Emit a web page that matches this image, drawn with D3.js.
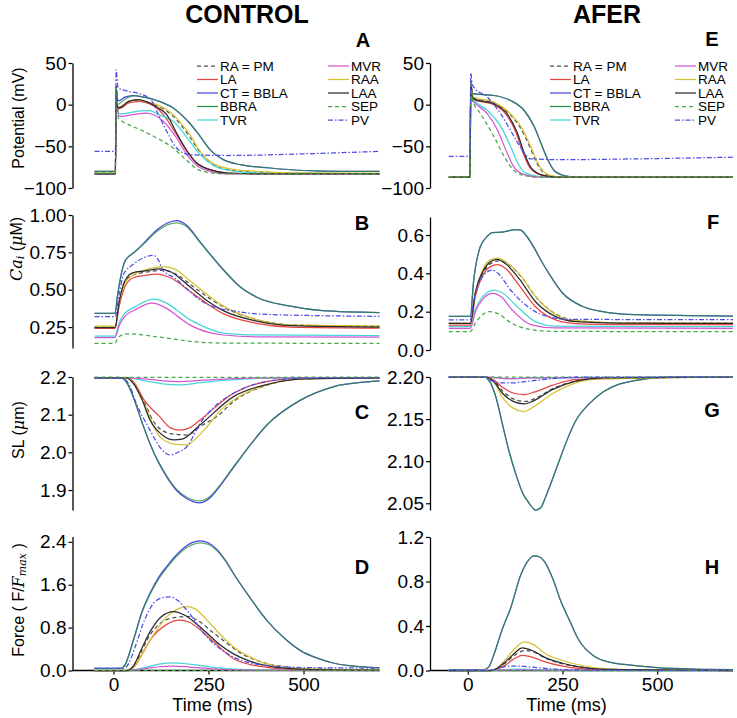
<!DOCTYPE html>
<html><head><meta charset="utf-8">
<script src="https://cdn.jsdelivr.net/npm/d3@7"></script>
<style>
body{margin:0;background:#fff}
svg{display:block}
text{font-family:"Liberation Sans",Arial,sans-serif;fill:#000}
</style>
</head><body>
<svg id="chart" width="737" height="718"></svg>
<script>
// ---------------- series definitions ----------------
const seriesNames  = ["RA = PM","LA","CT = BBLA","BBRA","TVR","MVR","RAA","LAA","SEP","PV"];
const seriesColors = ["#505050","#e84545","#4646dc","#2c8c44","#44d6d6","#d455d4","#d6c233","#2a2a2a","#44a844","#4d4de6"];
const seriesDash   = ["4,3",null,null,null,null,null,null,null,"4,3","5,2,1.5,2"];
const seriesAlpha  = [1,1,1,0.75,1,1,1,1,1,1];

const timeTicks = [0,250,500];

// ---------------- data: [time (ms), value] per series, in series order ----------------
// Panel A: Potential (mV), CONTROL
const potentialControl = [
 [[-50,-82],[5,-82],[7,22],[11,-4],[20,-3],[40,3],[60,5],[90,2],[114,-1],[157,-14],[195,-35],[225,-55],[260,-71],[300,-78],[377,-81],[500,-82],[700,-83]],
 [[-50,-83],[5,-83],[7,20],[11,-5],[20,-4],[40,2],[70,4],[95,1],[114,-4],[131,-12],[166,-36],[193,-56],[219,-70],[254,-78],[300,-82],[400,-83],[700,-83]],
 [[-50,-80],[5,-80],[7,22],[10,6],[15,5],[30,9],[50,11],[80,9],[114,5],[157,-4],[200,-22],[228,-38],[254,-54],[289,-66],[333,-72],[412,-76],[500,-79],[600,-80],[700,-80]],
 [[-50,-80],[5,-80],[7,22],[10,0],[20,3],[40,9],[55,11],[80,9],[114,5],[157,-4],[200,-22],[228,-38],[254,-54],[289,-66],[333,-72],[412,-76],[500,-79],[600,-80],[700,-80]],
 [[-50,-83],[5,-83],[7,18],[12,-10],[20,-11],[50,-9],[80,-7],[96,-7],[114,-11],[157,-20],[201,-44],[228,-60],[263,-73],[307,-79],[377,-82],[700,-83]],
 [[-50,-83],[5,-83],[7,16],[13,-13],[21,-14],[50,-12],[87,-10],[110,-13],[131,-20],[166,-40],[193,-60],[219,-73],[254,-80],[300,-83],[700,-83]],
 [[-50,-82],[5,-82],[7,22],[11,-3],[20,-2],[40,4],[62,6],[90,3],[114,0],[157,-12],[201,-36],[228,-56],[263,-71],[307,-77],[377,-80],[500,-82],[700,-82]],
 [[-50,-83],[5,-83],[7,22],[11,-4],[20,-3],[40,4],[65,6],[90,3],[114,-3],[140,-12],[166,-34],[193,-55],[219,-70],[254,-78],[300,-82],[400,-83],[700,-83]],
 [[-50,-82],[5,-82],[7,20],[13,-16],[40,-24],[70,-30],[114,-40],[157,-52],[193,-67],[219,-77],[245,-81],[300,-83],[700,-83]],
 [[-50,-56],[5,-56],[7,42],[12,20],[40,16],[70,13],[100,5],[114,-8],[140,-32],[166,-52],[201,-60],[300,-61],[500,-59],[700,-56]]
];
// Panel E: Potential (mV), AFER
const potentialAfer = [
 [[-50,-87],[6,-87],[8,28],[12,10],[16,8],[69,2],[110,-11],[138,-27],[163,-50],[181,-69],[199,-81],[225,-86],[260,-87],[700,-87]],
 [[-50,-87],[6,-87],[8,26],[12,8],[16,6],[69,0],[100,-11],[128,-34],[146,-58],[163,-75],[190,-84],[225,-87],[700,-87]],
 [[-50,-87],[6,-87],[8,26],[12,14],[16,13],[40,12],[69,11],[113,5],[149,-7],[175,-26],[193,-46],[210,-65],[228,-79],[254,-85],[290,-87],[700,-87]],
 [[-50,-87],[6,-87],[8,26],[12,14],[16,13],[40,12],[69,11],[113,5],[149,-7],[175,-26],[193,-46],[210,-65],[228,-79],[254,-85],[290,-87],[700,-87]],
 [[-50,-87],[6,-87],[8,26],[12,7],[16,5],[52,-7],[87,-26],[113,-50],[131,-69],[149,-81],[175,-85],[210,-87],[700,-87]],
 [[-50,-87],[6,-87],[8,24],[12,5],[16,3],[52,-11],[78,-30],[104,-58],[122,-75],[149,-84],[190,-87],[700,-87]],
 [[-50,-87],[6,-87],[8,28],[12,10],[16,9],[69,3],[113,-11],[140,-26],[166,-50],[184,-69],[202,-81],[228,-86],[260,-87],[700,-87]],
 [[-50,-87],[6,-87],[8,28],[12,9],[16,7],[69,1],[104,-11],[131,-34],[149,-58],[166,-75],[193,-84],[230,-87],[700,-87]],
 [[-50,-87],[6,-87],[8,28],[12,6],[34,-11],[69,-38],[96,-62],[122,-79],[149,-85],[190,-87],[700,-87]],
 [[-50,-62],[6,-62],[8,38],[12,24],[16,21],[52,9],[87,-11],[122,-38],[149,-58],[166,-65],[250,-66],[450,-65],[700,-63]]
];
// Panel B: Ca_i (uM), CONTROL
const calciumControl = [
 [[-50,0.25],[4,0.25],[15,0.41],[30,0.55],[52,0.6],[80,0.615],[130,0.63],[160,0.61],[210,0.52],[260,0.43],[300,0.37],[377,0.3],[465,0.265],[700,0.255]],
 [[-50,0.241],[4,0.241],[15,0.39],[30,0.52],[52,0.58],[80,0.595],[114,0.605],[150,0.58],[201,0.49],[250,0.4],[289,0.34],[377,0.275],[465,0.25],[700,0.243]],
 [[-50,0.342],[4,0.342],[10,0.45],[20,0.6],[30,0.69],[39,0.72],[52,0.745],[79,0.81],[114,0.9],[140,0.945],[166,0.962],[193,0.93],[228,0.82],[289,0.635],[333,0.52],[377,0.45],[465,0.39],[550,0.36],[700,0.347]],
 [[-50,0.342],[4,0.342],[10,0.45],[20,0.6],[30,0.69],[39,0.72],[52,0.745],[79,0.805],[114,0.89],[140,0.932],[166,0.948],[193,0.922],[228,0.815],[289,0.632],[333,0.52],[377,0.45],[465,0.39],[550,0.36],[700,0.347]],
 [[-50,0.19],[4,0.19],[15,0.28],[26,0.33],[60,0.39],[105,0.437],[140,0.41],[166,0.365],[201,0.3],[250,0.24],[289,0.21],[377,0.197],[700,0.192]],
 [[-50,0.18],[4,0.18],[15,0.26],[26,0.31],[60,0.37],[101,0.41],[140,0.375],[170,0.32],[201,0.265],[250,0.215],[289,0.197],[377,0.185],[700,0.182]],
 [[-50,0.256],[4,0.256],[15,0.42],[30,0.54],[52,0.6],[80,0.63],[131,0.655],[160,0.64],[201,0.56],[250,0.46],[289,0.39],[377,0.3],[465,0.265],[700,0.258]],
 [[-50,0.247],[4,0.247],[15,0.42],[30,0.56],[52,0.615],[80,0.625],[122,0.64],[150,0.62],[201,0.52],[250,0.42],[289,0.36],[377,0.29],[465,0.26],[700,0.25]],
 [[-50,0.141],[4,0.141],[10,0.17],[20,0.195],[40,0.205],[70,0.2],[114,0.185],[160,0.17],[201,0.155],[289,0.143],[700,0.141]],
 [[-50,0.32],[4,0.32],[15,0.47],[26,0.6],[52,0.67],[80,0.715],[105,0.73],[118,0.7],[130,0.63],[160,0.58],[200,0.49],[228,0.43],[270,0.38],[310,0.36],[400,0.335],[700,0.322]]
];
// Panel F: Ca_i (uM), AFER
const calciumAfer = [
 [[-50,0.139],[7,0.139],[20,0.29],[40,0.4],[60,0.45],[82,0.465],[105,0.45],[140,0.385],[185,0.265],[240,0.18],[300,0.15],[400,0.142],[700,0.14]],
 [[-50,0.13],[7,0.13],[20,0.28],[40,0.39],[60,0.435],[78,0.445],[100,0.425],[135,0.339],[179,0.226],[232,0.157],[285,0.138],[400,0.133],[700,0.132]],
 [[-50,0.175],[7,0.175],[15,0.35],[30,0.52],[50,0.59],[65,0.613],[91,0.615],[126,0.628],[140,0.625],[153,0.6],[179,0.52],[197,0.455],[214,0.4],[249,0.3],[302,0.228],[356,0.2],[444,0.184],[700,0.177]],
 [[-50,0.175],[7,0.175],[15,0.35],[30,0.52],[50,0.59],[65,0.613],[91,0.615],[126,0.628],[140,0.625],[153,0.6],[179,0.52],[197,0.455],[214,0.4],[249,0.3],[302,0.228],[356,0.2],[444,0.184],[700,0.177]],
 [[-50,0.122],[7,0.122],[20,0.21],[40,0.28],[69,0.313],[90,0.3],[126,0.235],[179,0.148],[232,0.124],[700,0.122]],
 [[-50,0.113],[7,0.113],[20,0.2],[40,0.265],[65,0.295],[90,0.275],[117,0.209],[170,0.13],[232,0.115],[700,0.113]],
 [[-50,0.139],[7,0.139],[20,0.3],[40,0.42],[60,0.47],[82,0.48],[100,0.46],[135,0.4],[179,0.28],[232,0.185],[285,0.153],[400,0.142],[700,0.14]],
 [[-50,0.139],[7,0.139],[20,0.3],[40,0.41],[60,0.46],[78,0.473],[100,0.45],[135,0.374],[179,0.252],[232,0.174],[285,0.148],[400,0.14],[700,0.139]],
 [[-50,0.096],[7,0.096],[20,0.14],[40,0.185],[56,0.2],[80,0.19],[109,0.148],[162,0.108],[232,0.097],[700,0.096]],
 [[-50,0.157],[7,0.157],[15,0.25],[30,0.35],[50,0.405],[65,0.417],[80,0.4],[113,0.313],[153,0.235],[197,0.183],[267,0.16],[700,0.158]]
];
// Panel C: SL (um), CONTROL
const slControl = [
 [[-50,2.198],[35,2.198],[52,2.185],[80,2.135],[110,2.075],[150,2.05],[193,2.046],[230,2.07],[272,2.095],[316,2.135],[403,2.178],[500,2.195],[700,2.198]],
 [[-50,2.198],[35,2.198],[52,2.188],[80,2.14],[122,2.094],[150,2.065],[175,2.059],[200,2.065],[228,2.086],[316,2.157],[403,2.188],[500,2.197],[700,2.198]],
 [[-50,2.197],[20,2.197],[35,2.185],[52,2.147],[75,2.08],[96,2.023],[120,1.97],[140,1.935],[165,1.9],[193,1.877],[228,1.866],[255,1.88],[272,1.9],[316,1.96],[360,2.02],[403,2.072],[491,2.138],[578,2.174],[666,2.187],[700,2.19]],
 [[-50,2.197],[20,2.197],[35,2.185],[52,2.147],[75,2.08],[96,2.023],[120,1.972],[140,1.938],[165,1.903],[193,1.881],[228,1.871],[255,1.884],[272,1.903],[316,1.962],[360,2.02],[403,2.072],[491,2.138],[578,2.174],[666,2.187],[700,2.19]],
 [[-50,2.198],[40,2.198],[80,2.19],[130,2.182],[175,2.179],[230,2.185],[300,2.192],[403,2.197],[700,2.198]],
 [[-50,2.198],[40,2.198],[80,2.195],[130,2.19],[175,2.188],[230,2.191],[300,2.195],[403,2.198],[700,2.198]],
 [[-50,2.198],[35,2.198],[52,2.185],[80,2.13],[122,2.041],[160,2.022],[193,2.02],[220,2.04],[246,2.068],[280,2.11],[316,2.139],[403,2.179],[500,2.195],[700,2.198]],
 [[-50,2.198],[35,2.198],[52,2.183],[75,2.14],[96,2.086],[130,2.045],[160,2.033],[180,2.035],[228,2.073],[316,2.148],[403,2.18],[500,2.195],[700,2.198]],
 [[-50,2.2],[100,2.199],[200,2.199],[700,2.2]],
 [[-50,2.197],[25,2.197],[41,2.18],[60,2.13],[96,2.059],[125,2.01],[149,1.993],[170,2.0],[193,2.015],[228,2.077],[270,2.125],[316,2.157],[403,2.188],[500,2.197],[700,2.198]]
];
// Panel G: SL (um), AFER
const slAfer = [
 [[-50,2.2],[45,2.2],[70,2.195],[91,2.184],[120,2.174],[152,2.171],[180,2.175],[223,2.186],[285,2.195],[356,2.199],[700,2.2]],
 [[-50,2.2],[45,2.2],[70,2.196],[91,2.188],[120,2.181],[149,2.179],[175,2.182],[223,2.19],[285,2.197],[700,2.2]],
 [[-50,2.2],[45,2.2],[60,2.193],[75,2.175],[91,2.145],[110,2.11],[126,2.086],[145,2.062],[162,2.05],[179,2.042],[193,2.045],[205,2.057],[223,2.078],[241,2.1],[262,2.125],[285,2.148],[320,2.168],[356,2.182],[444,2.196],[532,2.2],[700,2.2]],
 [[-50,2.2],[45,2.2],[60,2.193],[75,2.175],[91,2.145],[110,2.11],[126,2.086],[145,2.062],[162,2.05],[179,2.042],[193,2.045],[205,2.057],[223,2.078],[241,2.1],[262,2.125],[285,2.148],[320,2.168],[356,2.182],[444,2.196],[532,2.2],[700,2.2]],
 [[-50,2.2],[50,2.2],[110,2.198],[160,2.199],[700,2.2]],
 [[-50,2.2],[50,2.2],[110,2.198],[170,2.199],[700,2.2]],
 [[-50,2.2],[45,2.2],[70,2.193],[91,2.176],[120,2.163],[149,2.159],[175,2.165],[223,2.18],[285,2.193],[356,2.198],[700,2.2]],
 [[-50,2.2],[45,2.2],[70,2.194],[91,2.181],[120,2.171],[149,2.168],[175,2.172],[223,2.185],[285,2.195],[356,2.199],[700,2.2]],
 [[-50,2.2],[700,2.2]],
 [[-50,2.2],[40,2.2],[60,2.196],[90,2.193],[120,2.193],[160,2.195],[223,2.198],[300,2.2],[700,2.2]]
];
// Panel D: Force (F/Fmax), CONTROL
const forceControl = [
 [[-50,0],[35,0],[52,0.06],[75,0.38],[96,0.66],[140,0.95],[175,1.0],[193,1.01],[220,0.94],[260,0.72],[300,0.5],[333,0.33],[380,0.18],[440,0.08],[520,0.03],[700,0.005]],
 [[-50,0],[35,0],[52,0.05],[75,0.3],[96,0.56],[140,0.86],[175,0.94],[200,0.9],[228,0.76],[260,0.56],[316,0.22],[360,0.11],[403,0.06],[500,0.015],[700,0.003]],
 [[-50,0.04],[20,0.04],[30,0.1],[52,0.56],[75,1.1],[96,1.44],[120,1.75],[140,1.94],[165,2.15],[184,2.28],[205,2.38],[228,2.42],[250,2.38],[272,2.26],[295,2.05],[316,1.81],[360,1.35],[403,0.94],[450,0.6],[491,0.375],[540,0.22],[578,0.14],[620,0.09],[666,0.065],[700,0.055]],
 [[-50,0.04],[20,0.04],[30,0.1],[52,0.55],[75,1.08],[96,1.42],[120,1.72],[140,1.91],[165,2.12],[184,2.25],[205,2.34],[228,2.38],[250,2.35],[272,2.24],[295,2.04],[316,1.8],[360,1.35],[403,0.94],[450,0.6],[491,0.375],[540,0.22],[578,0.14],[620,0.09],[666,0.065],[700,0.055]],
 [[-50,0],[40,0],[80,0.05],[120,0.12],[158,0.144],[200,0.12],[260,0.06],[330,0.02],[450,0.003],[700,0]],
 [[-50,0],[40,0],[80,0.03],[120,0.07],[158,0.081],[200,0.065],[260,0.03],[330,0.01],[450,0.002],[700,0]],
 [[-50,0],[35,0],[52,0.06],[75,0.3],[96,0.56],[140,1.0],[170,1.15],[193,1.19],[215,1.15],[246,0.94],[280,0.68],[316,0.44],[360,0.25],[403,0.125],[500,0.035],[700,0.01]],
 [[-50,0],[35,0],[52,0.08],[75,0.42],[96,0.72],[125,1.0],[158,1.1],[190,1.02],[220,0.86],[246,0.7],[280,0.48],[316,0.31],[360,0.17],[403,0.09],[500,0.02],[700,0.005]],
 [[-50,0],[700,0.002]],
 [[-50,0.04],[25,0.04],[35,0.08],[60,0.5],[78,0.875],[105,1.25],[130,1.36],[149,1.375],[170,1.3],[193,1.125],[246,0.625],[316,0.25],[403,0.094],[500,0.055],[700,0.045]]
];
// Panel H: Force (F/Fmax), AFER
const forceAfer = [
 [[-50,0],[60,0],[80,0.02],[100,0.07],[125,0.14],[150,0.18],[175,0.165],[205,0.11],[250,0.06],[300,0.03],[360,0.01],[700,0]],
 [[-50,0],[60,0],[80,0.015],[100,0.05],[125,0.11],[144,0.135],[170,0.12],[202,0.08],[250,0.04],[290,0.02],[350,0.007],[700,0]],
 [[-50,0.005],[40,0.005],[55,0.03],[69,0.143],[90,0.36],[113,0.56],[140,0.86],[160,0.99],[175,1.03],[190,1.02],[202,0.98],[225,0.82],[246,0.62],[270,0.44],[290,0.292],[334,0.128],[380,0.07],[413,0.054],[500,0.025],[600,0.012],[700,0.008]],
 [[-50,0.005],[40,0.005],[55,0.03],[69,0.143],[90,0.36],[113,0.56],[140,0.86],[160,0.99],[175,1.03],[190,1.02],[202,0.98],[225,0.82],[246,0.62],[270,0.44],[290,0.292],[334,0.128],[380,0.07],[413,0.054],[500,0.025],[600,0.012],[700,0.008]],
 [[-50,0],[60,0],[110,0.01],[140,0.012],[200,0.006],[300,0],[700,0]],
 [[-50,0],[100,0.003],[150,0.005],[250,0.001],[700,0]],
 [[-50,0],[60,0],[80,0.03],[96,0.084],[125,0.2],[149,0.257],[175,0.23],[202,0.158],[250,0.09],[290,0.054],[350,0.02],[450,0.005],[700,0]],
 [[-50,0],[60,0],[80,0.025],[100,0.08],[125,0.16],[144,0.203],[170,0.18],[202,0.12],[250,0.065],[290,0.035],[350,0.012],[700,0]],
 [[-50,0],[700,0]],
 [[-50,0],[55,0],[80,0.02],[110,0.04],[130,0.04],[170,0.03],[220,0.015],[300,0.005],[700,0]]
];

// tick values per panel
const potentialTicks = [-100,-50,0,50];
const calciumCtrlTicks = [0.25,0.5,0.75,1.0];
const calciumAferTicks = [0.0,0.2,0.4,0.6];
const slCtrlTicks = [1.9,2.0,2.1,2.2];
const slAferTicks = [2.05,2.10,2.15,2.20];
const forceCtrlTicks = [0.0,0.8,1.6,2.4];
const forceAferTicks = [0.0,0.4,0.8,1.2];

// ---------------- layout ----------------
const svg = d3.select("#chart");
const cols = [
  {axisX:72.5, x:d3.scaleLinear().domain([-50,700]).range([94.5,379.5])},
  {axisX:430,  x:d3.scaleLinear().domain([-50,700]).range([448.8,733])}
];
const panels = [
  {col:0, data:potentialControl, dom:[-100,50], rng:[188,63], ticks:potentialTicks, fmt:d3.format("d"), letter:"A", lx:363, ly:40},
  {col:0, data:calciumControl, dom:[0.11,1.0], rng:[348,215], ticks:calciumCtrlTicks, fmt:d3.format(".2f"), letter:"B", lx:362, ly:223},
  {col:0, data:slControl, dom:[1.847,2.2], rng:[510,377], ticks:slCtrlTicks, fmt:d3.format(".1f"), letter:"C", lx:362, ly:412},
  {col:0, data:forceControl, dom:[0,2.5], rng:[670.5,536.5], ticks:forceCtrlTicks, fmt:d3.format(".1f"), letter:"D", lx:362, ly:567, bottom:true},
  {col:1, data:potentialAfer, dom:[-100,50], rng:[188,63], ticks:potentialTicks, fmt:d3.format("d"), letter:"E", lx:712, ly:39},
  {col:1, data:calciumAfer, dom:[0,0.694], rng:[350,217], ticks:calciumAferTicks, fmt:d3.format(".1f"), letter:"F", lx:713, ly:222},
  {col:1, data:slAfer, dom:[2.042,2.2], rng:[510,377], ticks:slAferTicks, fmt:d3.format(".2f"), letter:"G", lx:712, ly:410},
  {col:1, data:forceAfer, dom:[0,1.2], rng:[670.5,537], ticks:forceAferTicks, fmt:d3.format(".1f"), letter:"H", lx:712, ly:567, bottom:true}
];

panels.forEach(p => {
  const c = cols[p.col];
  const y = d3.scaleLinear().domain(p.dom).range(p.rng);
  const x = c.x;
  const g = svg.append("g");
  // y axis
  const ya = g.append("g").attr("transform",`translate(${c.axisX},0)`)
    .call(d3.axisLeft(y).tickValues(p.ticks).tickFormat(p.fmt).tickSize(4).tickSizeOuter(0));
  ya.select(".domain").attr("stroke","#000").attr("stroke-width",1.3);
  ya.selectAll(".tick line").attr("stroke","#000").attr("stroke-width",1.2);
  ya.selectAll(".tick text").attr("font-size",19).attr("x",-6).style("font-family","'Liberation Sans',Arial,sans-serif");
  if (p.bottom) {
    const xa = g.append("g").attr("transform",`translate(0,${p.rng[0]})`)
      .call(d3.axisBottom(x).tickValues(timeTicks).tickFormat(d3.format("d")).tickSize(4).tickSizeOuter(0));
    xa.select(".domain").remove();
    xa.append("line").attr("x1",c.axisX).attr("x2",x.range()[1]).attr("y1",0).attr("y2",0)
      .attr("stroke","#000").attr("stroke-width",1.3);
    xa.selectAll(".tick line").attr("stroke","#000").attr("stroke-width",1.2);
    xa.selectAll(".tick text").attr("font-size",19).attr("y",7).style("font-family","'Liberation Sans',Arial,sans-serif");
    g.append("text").attr("x",(x(0)+x(500))/2+4).attr("y",711).attr("text-anchor","middle")
      .attr("font-size",18).text("Time (ms)");
  }
  // lines
  const line = d3.line().x(d=>x(d[0])).y(d=>y(d[1])).curve(d3.curveMonotoneX);
  p.data.forEach((s,i) => {
    g.append("path").attr("d",line(s)).attr("fill","none")
      .attr("stroke",seriesColors[i]).attr("stroke-width",1.25)
      .attr("stroke-opacity",seriesAlpha[i])
      .attr("stroke-dasharray",seriesDash[i]);
  });
  g.append("text").attr("x",p.lx).attr("y",p.ly).attr("text-anchor","middle")
    .attr("dominant-baseline","central").attr("font-size",20).attr("font-weight","bold").text(p.letter);
});

// column titles
svg.append("text").attr("x",247).attr("y",23).attr("text-anchor","middle").attr("font-size",25).attr("font-weight","bold").text("CONTROL");
svg.append("text").attr("x",607).attr("y",23).attr("text-anchor","middle").attr("font-size",25).attr("font-weight","bold").text("AFER");

// legends
const legendRows = [66,79.5,93,106.5,120];
const legendCols = [[197,328],[550,675]];
legendCols.forEach(lc => {
  seriesNames.forEach((n,i) => {
    const cx = lc[i<5?0:1], ry = legendRows[i%5];
    svg.append("line").attr("x1",cx).attr("x2",cx+21).attr("y1",ry).attr("y2",ry)
      .attr("stroke",seriesColors[i]).attr("stroke-width",1.25).attr("stroke-dasharray",seriesDash[i]);
    svg.append("text").attr("x",cx+23).attr("y",ry).attr("dominant-baseline","central")
      .attr("font-size",13.5).text(n);
  });
});

// y labels
const serif = "'DejaVu Serif','Liberation Serif',serif";
function ylab(cx, cy){ return svg.append("text").attr("transform",`translate(${cx},${cy}) rotate(-90)`).attr("text-anchor","middle").attr("dominant-baseline","central").attr("font-size",16); }
ylab(18,118).text("Potential (mV)");
const ca = ylab(16,249);
ca.append("tspan").style("font-family",serif).attr("font-style","italic").text("Ca");
ca.append("tspan").style("font-family",serif).attr("font-style","italic").attr("font-size",11).attr("dy",4).text("i");
ca.append("tspan").attr("dy",-4).text(" (");
ca.append("tspan").style("font-family",serif).attr("font-style","italic").text("μ");
ca.append("tspan").text("M)");
const sl = ylab(18,430);
sl.append("tspan").text("SL (");
sl.append("tspan").style("font-family",serif).attr("font-style","italic").text("μ");
sl.append("tspan").text("m)");
const fo = ylab(18,600);
fo.append("tspan").text("Force ( F/");
fo.append("tspan").style("font-family",serif).attr("font-style","italic").text("F");
fo.append("tspan").style("font-family",serif).attr("font-style","italic").attr("font-size",11).attr("dy",4).text("max");
fo.append("tspan").attr("dy",-4).text(" )");
</script>
</body></html>
